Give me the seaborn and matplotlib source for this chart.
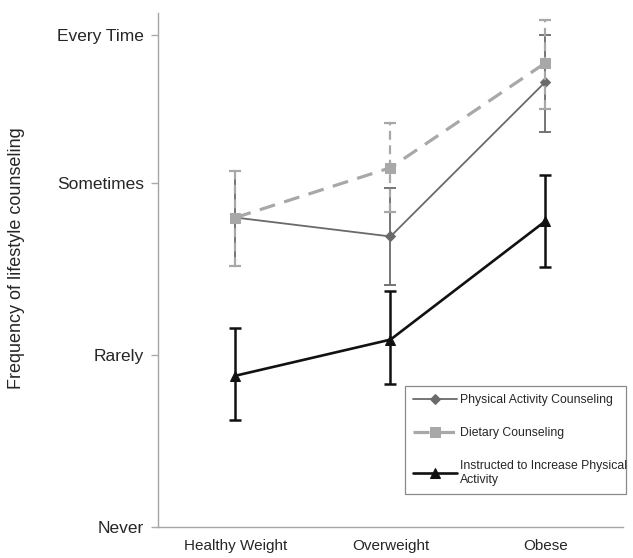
import matplotlib
matplotlib.use("Agg")
import matplotlib.pyplot as plt
import seaborn as sns
import pandas as pd

categories = ["Healthy Weight", "Overweight", "Obese"]
series_names = ["Physical Activity Counseling", "Dietary Counseling",
                "Instructed to Increase Physical\nActivity"]
pa_mean = [1.80, 1.69, 2.59]
pa_err_lo = [0.28, 0.28, 0.29]
pa_err_hi = [0.27, 0.28, 0.27]
diet_mean = [1.80, 2.09, 2.70]
diet_err_lo = [0.28, 0.26, 0.27]
diet_err_hi = [0.27, 0.26, 0.25]
instr_mean = [0.88, 1.09, 1.78]
instr_err_lo = [0.26, 0.26, 0.27]
instr_err_hi = [0.28, 0.28, 0.27]
ytick_vals = [0, 1, 2, 2.86]
ytick_labels = ["Never", "Rarely", "Sometimes", "Every Time"]
ylabel = "Frequency of lifestyle counseling"

sns.set_style("white")
plt.rcParams["font.family"] = ["Liberation Sans", "DejaVu Sans"]

fig = plt.figure(figsize=(6.33, 5.58), dpi=100)
ax = fig.add_axes([0.2496, 0.0556, 0.9842 - 0.2496, 0.9767 - 0.0556])

styles = [
    dict(mean=pa_mean, lo=pa_err_lo, hi=pa_err_hi, color="#6a6a6a", marker="D",
         ms=5.5, ls="-", lw=1.3, elw=1.3, els="-", z=3),
    dict(mean=diet_mean, lo=diet_err_lo, hi=diet_err_hi, color="#a8a8a8", marker="s",
         ms=6.5, ls=(0, (5, 3)), lw=2.3, elw=1.6, els="--", z=4),
    dict(mean=instr_mean, lo=instr_err_lo, hi=instr_err_hi, color="#111111", marker="^",
         ms=7, ls="-", lw=1.9, elw=1.8, els="-", z=5),
]

for name, st in zip(series_names, styles):
    df = pd.DataFrame({"cat": categories, "val": st["mean"]})
    eb = ax.errorbar(df["cat"], df["val"], yerr=[st["lo"], st["hi"]], fmt="none",
                     ecolor=st["color"], elinewidth=st["elw"], capsize=4,
                     capthick=st["elw"], zorder=st["z"])
    if st["els"] == "--":
        for c in eb[2]:
            c.set_linestyle((0, (4, 2.5)))
    sns.lineplot(data=df, x="cat", y="val", ax=ax, color=st["color"],
                 marker=st["marker"], markersize=st["ms"], linewidth=st["lw"],
                 markeredgecolor=st["color"], zorder=st["z"] + 0.5,
                 label=name, sort=False)
    line = ax.lines[-1]
    line.set_linestyle(st["ls"])

ax.set_xlim(-0.5, 2.5)
ax.set_ylim(0, 2.99)
ax.set_yticks(ytick_vals)
ax.set_yticklabels(ytick_labels, fontsize=12.5)
ax.set_xticks(range(len(categories)))
ax.set_xticklabels(categories, fontsize=11)
ax.set_xticks([0.5, 1.5, 2.5], minor=True)
ax.tick_params(axis="x", which="major", length=0, pad=9)
ax.tick_params(axis="x", which="minor", length=5, width=1, color="#aaaaaa", direction="out")
ax.tick_params(axis="y", which="major", length=5, width=1, color="#aaaaaa",
               direction="out", left=True, pad=5)
ax.set_xlabel("")
ax.set_ylabel(ylabel, fontsize=13)
ax.yaxis.set_label_coords(-0.286, 0.523)

for s in ["top", "right"]:
    ax.spines[s].set_visible(False)
for s in ["left", "bottom"]:
    ax.spines[s].set_color("#a5a5a5")
    ax.spines[s].set_linewidth(1.0)

leg = ax.legend(loc="lower left", bbox_to_anchor=(0.531, 0.064, 0.475, 0.206),
                mode="expand", fontsize=8.8, frameon=True, fancybox=False,
                edgecolor="#8a8a8a", framealpha=1, handlelength=3.6,
                handletextpad=0.2, labelspacing=1.7, borderpad=0.7,
                borderaxespad=0)
leg.get_frame().set_linewidth(0.9)

fig.savefig("out.png", dpi=100)
